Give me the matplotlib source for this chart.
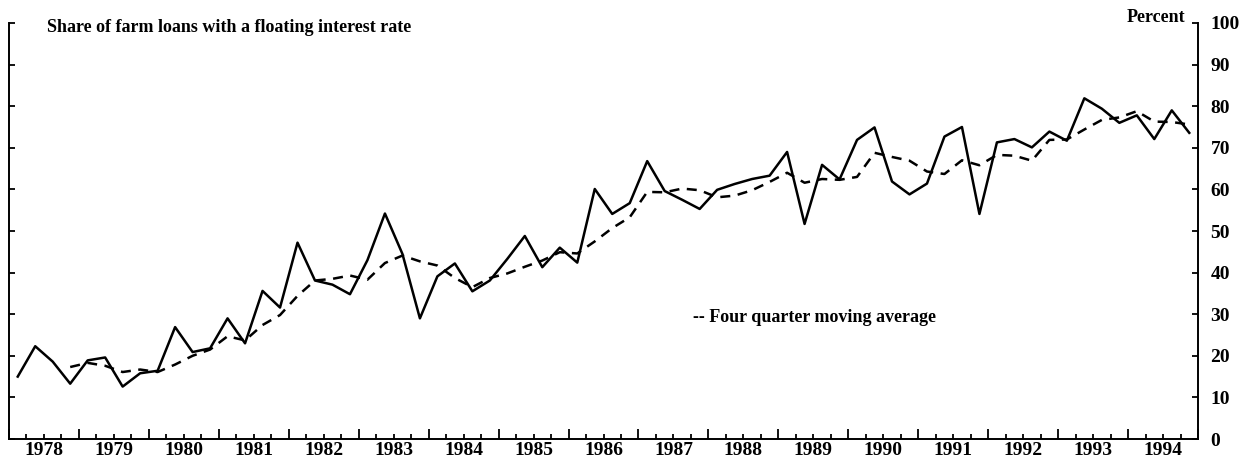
import numpy as np
import matplotlib.pyplot as plt
from matplotlib.ticker import FixedLocator, FixedFormatter

plt.rcParams['font.family'] = ['Liberation Serif', 'DejaVu Serif']

# quarterly data, 1978 Q1 - 1994 Q4
years = list(range(1978, 1995))
share = [15.0, 22.3, 18.6, 13.3, 18.9, 19.6, 12.6, 15.8,
         16.4, 26.9, 20.9, 21.8, 29.0, 23.0, 35.6, 31.6,
         47.2, 38.1, 37.1, 34.8, 43.0, 54.2, 44.5, 29.0,
         39.1, 42.2, 35.5, 38.1, 43.3, 48.8, 41.3, 46.0,
         42.4, 60.1, 54.1, 56.7, 66.8, 59.6, 57.5, 55.3,
         59.9, 61.3, 62.5, 63.3, 69.0, 51.7, 65.9, 62.4,
         71.9, 74.9, 61.9, 58.8, 61.4, 72.7, 75.0, 54.1,
         71.3, 72.1, 70.1, 73.9, 71.7, 81.9, 79.4, 76.0,
         77.8, 72.1, 79.0, 73.6]
# four quarter moving average (starts 1978 Q4)
moving_avg = [17.3, 18.3, 17.6, 16.1, 16.7, 16.1, 17.9, 20.0,
              21.5, 24.7, 23.7, 27.4, 29.8, 34.4, 38.1, 38.5,
              39.3, 38.3, 42.3, 44.1, 42.7, 41.7, 38.7, 36.5,
              38.7, 39.8, 41.4, 42.9, 44.9, 44.6, 47.5, 50.7,
              53.3, 59.4, 59.3, 60.2, 59.8, 58.1, 58.5, 59.8,
              61.8, 64.0, 61.6, 62.5, 62.3, 63.0, 68.8, 67.8,
              66.9, 64.3, 63.7, 67.0, 65.8, 68.3, 68.1, 66.9,
              71.9, 72.0, 74.4, 76.7, 77.3, 78.8, 76.3, 76.2,
              75.6]

t = np.array([y + (q - 0.5) / 4 for y in years for q in range(1, 5)])

fig = plt.figure(figsize=(12.51, 4.69), dpi=100)
ax = fig.add_axes([9 / 1251, 30 / 469, 1189 / 1251, 416 / 469])

ax.plot(t, share, color='black', lw=1.8)
ax.plot(t[3:], moving_avg, color='black', lw=1.8, dashes=(4, 3))

ax.set_xlim(1978, 1995)
ax.set_ylim(0, 100)

# spines
ax.spines['top'].set_visible(False)
for s in ['left', 'right', 'bottom']:
    ax.spines[s].set_linewidth(1.4)

# y axis: labels on the right
ax.yaxis.set_ticks_position('both')
ax.yaxis.set_ticks(np.arange(0, 101, 10))
ax.tick_params(axis='y', direction='in', length=4, width=1.3,
               labelleft=False, labelright=True, labelsize=14, pad=9)
for lab in ax.get_yticklabels():
    lab.set_fontweight('bold')

# x axis: year ticks + quarter ticks, labels centred in each year
ax.xaxis.set_major_locator(FixedLocator(range(1978, 1996)))
ax.xaxis.set_major_formatter(FixedFormatter([''] * 18))
quarters = [y + q / 4 for y in years for q in range(1, 4)]
qlabels = [str(y) if q == 2 else '' for y in years for q in range(1, 4)]
ax.xaxis.set_minor_locator(FixedLocator(quarters))
ax.xaxis.set_minor_formatter(FixedFormatter(qlabels))
ax.tick_params(axis='x', which='major', direction='in', length=7, width=1.3)
ax.tick_params(axis='x', which='minor', direction='in', length=3.5, width=1.3,
               labelsize=14, pad=2)
for lab in ax.xaxis.get_minorticklabels():
    lab.set_fontweight('bold')

fig.text(47 / 1251, 1 - 28 / 469, 'Share of farm loans with a floating interest rate',
         fontsize=13, fontweight='bold', va='center', ha='left')
fig.text(1185 / 1251, 1 - 17 / 469, 'Percent', fontsize=13, fontweight='bold',
         va='center', ha='right')
fig.text(693 / 1251, 1 - 317 / 469, '-- Four quarter moving average',
         fontsize=13, fontweight='bold', va='center', ha='left')

fig.savefig('out.png', dpi=100)
